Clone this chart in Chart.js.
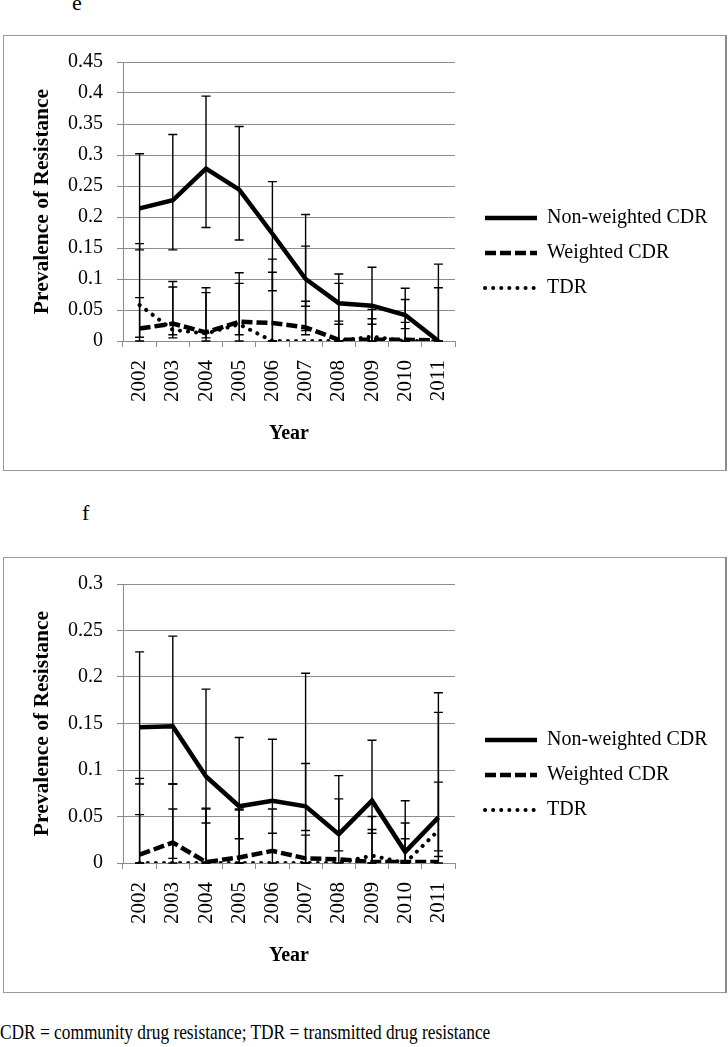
<!DOCTYPE html>
<html>
<head>
<meta charset="utf-8">
<script src="https://cdn.jsdelivr.net/npm/chart.js@4.4.1/dist/chart.umd.min.js"></script>
<style>
  body { margin: 0; background: #fff; font-family: "Liberation Serif", "DejaVu Serif", serif; color: #000; }
  .panel-label { position: absolute; font-size: 22px; line-height: 22px; }
  .box { position: absolute; left: 3px; width: 724px; height: 436px; box-sizing: border-box;
         border: 1px solid #9a9a9a; border-right: 2px solid #8a8a8a; }
  .box canvas { position: absolute; left: 0; top: 0; }
  .caption { position: absolute; left: 0; top: 1022px; font-size: 21px; line-height: 21px; white-space: nowrap;
             transform: scaleX(0.825); transform-origin: 0 0; }
</style>
</head>
<body>
<div class="panel-label" style="left:72px; top:-8px;">e</div>
<div class="box" style="top:35px;"><canvas id="chartE" width="721" height="434"></canvas></div>
<div class="panel-label" style="left:82px; top:502px;">f</div>
<div class="box" style="top:557px;"><canvas id="chartF" width="721" height="434"></canvas></div>
<div class="caption">CDR = community drug resistance; TDR = transmitted drug resistance</div>

<script>
const years = ['2002', '2003', '2004', '2005', '2006', '2007', '2008', '2009', '2010', '2011'];
const seriesNames = ['Non-weighted CDR', 'Weighted CDR', 'TDR'];

// panel e
const eTicks = [0, 0.05, 0.1, 0.15, 0.2, 0.25, 0.3, 0.35, 0.4, 0.45];
const eNonWeighted = [0.214, 0.227, 0.278, 0.244, 0.173, 0.1, 0.061, 0.057, 0.042, 0];
const eNonWeightedLow = [0.147, 0.147, 0.183, 0.163, 0.081, 0.056, 0.027, 0.027, 0.02, 0];
const eNonWeightedHigh = [0.302, 0.333, 0.395, 0.346, 0.257, 0.204, 0.108, 0.119, 0.085, 0.124];
const eWeighted = [0.02, 0.028, 0.014, 0.031, 0.029, 0.022, 0.002, 0.002, 0.002, 0.001];
const eWeightedLow = [0.006, 0.01, 0.005, 0.01, 0, 0.01, 0, 0, 0, 0];
const eWeightedHigh = [0.07, 0.096, 0.086, 0.11, 0.111, 0.064, 0.093, 0.036, 0.067, 0.086];
const eTdr = [0.058, 0.018, 0.012, 0.027, 0, 0, 0, 0.007, 0, 0];
const eTdrLow = [0, 0.005, 0, 0, 0, 0.017, 0, 0, 0, 0];
const eTdrHigh = [0.157, 0.087, 0.078, 0.093, 0.132, 0.153, 0.032, 0.051, 0.03, 0];

// panel f
const fTicks = [0, 0.05, 0.1, 0.15, 0.2, 0.25, 0.3];
const fNonWeighted = [0.146, 0.147, 0.093, 0.061, 0.067, 0.061, 0.031, 0.067, 0.012, 0.049];
const fNonWeightedLow = [0.085, 0.085, 0.043, 0.026, 0.032, 0.035, 0.013, 0.032, 0, 0.013];
const fNonWeightedHigh = [0.227, 0.244, 0.187, 0.135, 0.133, 0.107, 0.094, 0.132, 0.043, 0.162];
const fWeighted = [0.009, 0.022, 0.001, 0.006, 0.013, 0.005, 0.004, 0.001, 0.001, 0.001];
const fWeightedLow = [0, 0.005, 0, 0, 0, 0, 0, 0, 0, 0];
const fWeightedHigh = [0.052, 0.058, 0.059, 0.058, 0.058, 0.03, 0.069, 0.036, 0.026, 0.087];
const fTdr = [0, 0, 0, 0, 0, 0, 0, 0.008, 0, 0.035];
const fTdrLow = [0, 0, 0, 0, 0, 0, 0, 0, 0, 0.007];
const fTdrHigh = [0.091, 0.085, 0.058, 0.057, 0, 0.204, 0, 0.05, 0.067, 0.183];

Chart.defaults.font.family = '"Liberation Serif", "DejaVu Serif", serif';
Chart.defaults.color = '#000';

const gridGray = '#8c8c8c';

// vertical error bars with caps, drawn under the lines
const errorBars = {
    id: 'errorBars',
    beforeDatasetsDraw(chart) {
        const ctx = chart.ctx;
        const y = chart.scales.y;
        chart.data.datasets.forEach((ds, i) => {
            const meta = chart.getDatasetMeta(i);
            ctx.save();
            ctx.strokeStyle = '#000';
            ctx.lineWidth = 1.4;
            meta.data.forEach((pt, j) => {
                const lo = y.getPixelForValue(ds.errLow[j]);
                const hi = y.getPixelForValue(ds.errHigh[j]);
                if (Math.abs(lo - hi) < 0.5) return;
                ctx.beginPath();
                ctx.moveTo(pt.x, lo);
                ctx.lineTo(pt.x, hi);
                ctx.moveTo(pt.x - 4.5, lo);
                ctx.lineTo(pt.x + 4.5, lo);
                ctx.moveTo(pt.x - 4.5, hi);
                ctx.lineTo(pt.x + 4.5, hi);
                ctx.stroke();
            });
            ctx.restore();
        });
    }
};

// put the legend where it sits in the original figure
const legendSpot = {
    id: 'legendSpot',
    afterLayout(chart) {
        const lg = chart.legend;
        const area = chart.chartArea;
        const w = lg.right - lg.left;
        lg.left = area.right + 15;
        lg.right = lg.left + w;
        lg.top = 157;
        lg.bottom = lg.top + 200;
    }
};

function makePanel(canvasId, ticks, nw, nwLow, nwHigh, w, wLow, wHigh, tdr, tdrLow, tdrHigh) {
    const ctx = document.getElementById(canvasId).getContext('2d');
    return new Chart(ctx, {
        type: 'line',
        data: {
            labels: years,
            datasets: [
                { label: seriesNames[0], data: nw, errLow: nwLow, errHigh: nwHigh,
                  borderColor: '#000', borderWidth: 4.5, borderDash: [], borderCapStyle: 'butt' },
                { label: seriesNames[1], data: w, errLow: wLow, errHigh: wHigh,
                  borderColor: '#000', borderWidth: 4.5, borderDash: [11, 4], borderCapStyle: 'butt' },
                { label: seriesNames[2], data: tdr, errLow: tdrLow, errHigh: tdrHigh,
                  borderColor: '#000', borderWidth: 4, borderDash: [0.1, 8], borderCapStyle: 'round' }
            ]
        },
        options: {
            responsive: false,
            animation: false,
            events: [],
            elements: { point: { radius: 0 }, line: { tension: 0 } },
            layout: { padding: { top: 22, right: 30, bottom: 0, left: 0 } },
            plugins: {
                tooltip: { enabled: false },
                legend: {
                    position: 'right',
                    align: 'start',
                    maxWidth: 240,
                    labels: {
                        usePointStyle: true,
                        pointStyleWidth: 52,
                        padding: 15,
                        color: '#000',
                        font: { size: 20 },
                        generateLabels(chart) {
                            return chart.data.datasets.map((ds, i) => ({
                                text: ds.label,
                                datasetIndex: i,
                                pointStyle: 'line',
                                lineWidth: ds.borderWidth,
                                lineDash: ds.borderDash,
                                lineCap: ds.borderCapStyle,
                                strokeStyle: '#000',
                                fillStyle: '#000',
                                fontColor: '#000',
                                hidden: false
                            }));
                        }
                    }
                }
            },
            scales: {
                x: {
                    offset: true,
                    grid: { display: true, offset: true, drawOnChartArea: false, drawTicks: true, tickLength: 6, color: gridGray },
                    border: { display: true, color: gridGray },
                    ticks: { minRotation: 90, maxRotation: 90, autoSkip: false, padding: 13, font: { size: 21 } },
                    title: { display: true, text: 'Year', font: { size: 20, weight: 'bold' }, padding: { top: 0, bottom: 24 } },
                    afterFit(scale) { scale.height = 129; }
                },
                y: {
                    min: ticks[0],
                    max: ticks[ticks.length - 1],
                    afterBuildTicks(scale) { scale.ticks = ticks.map(v => ({ value: v })); },
                    grid: { color: gridGray, tickLength: 6, drawTicks: true },
                    border: { display: true, color: gridGray },
                    ticks: { padding: 14, font: { size: 20 }, callback: v => String(v) },
                    title: { display: true, text: 'Prevalence of Resistance', font: { size: 21.5, weight: 'bold' }, padding: { top: 26, bottom: 0 } },
                    afterFit(scale) { scale.width = 119; }
                }
            }
        },
        plugins: [errorBars, legendSpot]
    });
}

makePanel('chartE', eTicks, eNonWeighted, eNonWeightedLow, eNonWeightedHigh,
    eWeighted, eWeightedLow, eWeightedHigh, eTdr, eTdrLow, eTdrHigh);
makePanel('chartF', fTicks, fNonWeighted, fNonWeightedLow, fNonWeightedHigh,
    fWeighted, fWeightedLow, fWeightedHigh, fTdr, fTdrLow, fTdrHigh);
</script>
</body>
</html>
